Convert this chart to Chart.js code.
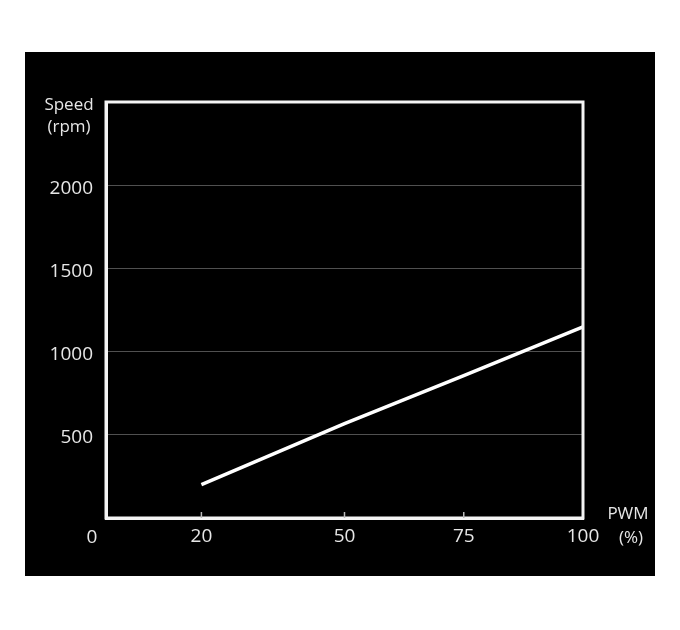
<!DOCTYPE html>
<html>
<head>
<meta charset="utf-8">
<script src="https://cdn.jsdelivr.net/npm/chart.js@4"></script>
<style>
  body { margin: 0; background: #fff; }
  #frame { position: absolute; left: 25px; top: 52px; width: 630px; height: 524px; background: #000; }
</style>
</head>
<body>
<div id="frame"><canvas id="speedChart" width="630" height="524"></canvas></div>
<script>
const pwmValues = [20, 50, 75, 100];
const speedValues = [200, 567, 856, 1148];
const xTickValues = [0, 20, 50, 75, 100];
const yTickValues = [500, 1000, 1500, 2000];

const colors = {
  text: "#e6e6e6",
  frame: "#f4f4f4",
  grid: "#505050",
  line: "#ffffff",
};

const tickFont = { family: "'Open Sans', sans-serif", size: 19 };

const framePlugin = {
  id: "frame",
  afterDraw(chart) {
    const { ctx, chartArea, scales } = chart;
    const { left, top, right, bottom } = chartArea;
    ctx.save();

    // full box around the plot
    ctx.strokeStyle = colors.frame;
    ctx.lineWidth = 3;
    ctx.strokeRect(left, top, right - left, bottom - top);

    // small inner ticks on the x axis
    ctx.strokeStyle = "#bbbbbb";
    ctx.lineWidth = 1.5;
    xTickValues.slice(1, -1).forEach((v) => {
      const x = scales.x.getPixelForValue(v);
      ctx.beginPath();
      ctx.moveTo(x, bottom - 6);
      ctx.lineTo(x, bottom);
      ctx.stroke();
    });

    ctx.fillStyle = colors.text;
    ctx.font = "19px 'Open Sans', sans-serif";
    ctx.textAlign = "center";
    ctx.textBaseline = "middle";

    // origin label sits left of the corner
    ctx.fillText("0", scales.x.getPixelForValue(0) - 14, bottom + 20);

    // axis titles
    ctx.font = "17px 'Open Sans', sans-serif";
    ctx.fillText("Speed", left - 37, top + 3);
    ctx.fillText("(rpm)", left - 37, top + 25);
    ctx.fillText("PWM", right + 45, bottom - 4);
    ctx.fillText("(%)", right + 48, bottom + 20);
    ctx.restore();
  },
};

new Chart(document.getElementById("speedChart"), {
  type: "line",
  data: {
    datasets: [
      {
        label: "Speed",
        data: pwmValues.map((p, i) => ({ x: p, y: speedValues[i] })),
        borderColor: colors.line,
        borderWidth: 3.5,
        pointRadius: 0,
        tension: 0,
      },
    ],
  },
  options: {
    responsive: false,
    animation: false,
    layout: { padding: { top: 50, right: 72, bottom: 0, left: 0 } },
    plugins: { legend: { display: false }, tooltip: { enabled: false } },
    scales: {
      x: {
        type: "linear",
        min: 0,
        max: 100,
        afterBuildTicks: (scale) => {
          scale.ticks = xTickValues.map((v) => ({ value: v }));
        },
        afterFit: (scale) => {
          scale.height = 58;
        },
        grid: { display: false, drawTicks: false },
        border: { color: colors.frame, width: 3 },
        ticks: {
          color: colors.text,
          font: tickFont,
          padding: 7,
          maxRotation: 0,
          callback: (v) => (v === 0 ? "" : String(v)),
        },
      },
      y: {
        min: 0,
        max: 2500,
        afterBuildTicks: (scale) => {
          scale.ticks = [0, ...yTickValues, 2500].map((v) => ({ value: v }));
        },
        afterFit: (scale) => {
          scale.width = 81;
        },
        grid: { color: colors.grid, lineWidth: 1, drawTicks: false },
        border: { color: colors.frame, width: 3 },
        ticks: {
          color: colors.text,
          font: tickFont,
          padding: 13,
          labelOffset: 3,
          callback: (v) => (yTickValues.includes(v) ? String(v) : ""),
        },
      },
    },
  },
  plugins: [framePlugin],
});
</script>
</body>
</html>
